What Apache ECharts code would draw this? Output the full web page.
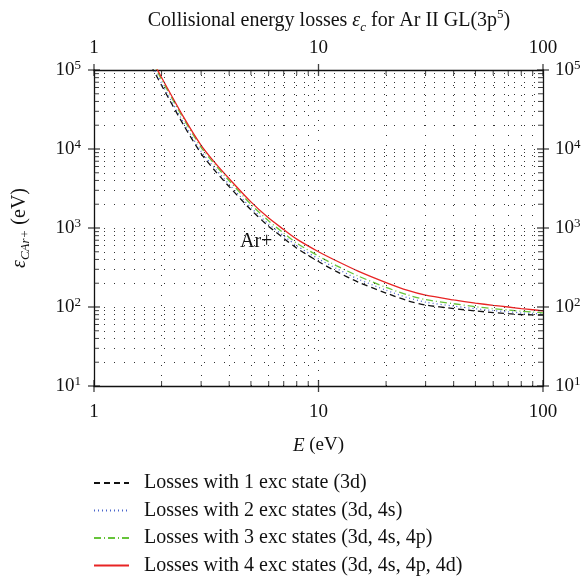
<!DOCTYPE html>
<html><head><meta charset="utf-8">
<script src="https://cdn.jsdelivr.net/npm/echarts@6/dist/echarts.min.js"></script>
<style>html,body{margin:0;padding:0;background:#fff}#c{width:584px;height:578px}</style>
</head><body><div id="c"></div>
<script>
const energies = [1.8,2,2.5,3,3.5,4,5,6,7,8,10,12,15,20,25,30,40,50,60,70,80,90,100];
const loss1 = [111900,63800,20400,8750,5105,3340,1700,1047,741,555,376,282,207,150,120,106,95.5,89.1,85.1,82.2,80.4,79.4,78.9];
const loss2 = [119400,68100,21800,9350,5445,3565,1811,1120,796,597,407,308,226,163,131,115,102.6,95.1,90.2,86.9,84.3,82.8,81.7];
const loss3 = [133000,75900,24300,10500,6070,3970,1995,1225,863,644,441,334,247,177,142,124,110,101,95.3,91.6,88.3,86.3,84.5];
const loss4 = [141000,80400,25700,11140,6430,4210,2140,1334,955,723,501,385,285,204,162,141,123,112,105,100,95.5,92.3,89.5];
const seriesNames = ['Losses with 1 exc state (3d)','Losses with 2 exc states (3d, 4s)','Losses with 3 exc states (3d, 4s, 4p)','Losses with 4 exc states (3d, 4s, 4p, 4d)'];
const xMajor = [1,10,100];
const yMajor = [10,100,1000,10000,100000];
const xMinor = [2,3,4,5,6,7,8,9,20,30,40,50,60,70,80,90];
const yMinor = [20,30,40,50,60,70,80,90,200,300,400,500,600,700,800,900,2000,3000,4000,5000,6000,7000,8000,9000,20000,30000,40000,50000,60000,70000,80000,90000];
const xMin = 1, xMax = 100, yMin = 10, yMax = 100000;
const curveLabel = 'Ar+';

const FONT = 'Liberation Serif';
const chart = echarts.init(document.getElementById('c'), null, {renderer:'canvas'});
const pair = (xs, ys) => xs.map((x,i)=>[x, ys[i]]);
const supRich = {
  b:{fontFamily:FONT,fontSize:19,lineHeight:22,color:'#111'},
  s:{fontFamily:FONT,fontSize:13,lineHeight:12,verticalAlign:'top',color:'#111'}
};
const yFmt = v => '{b|10}{s|' + Math.round(Math.log10(v)) + '}';
const xLabel = {fontFamily:FONT,fontSize:19,color:'#111'};
const axisLine = {show:true,lineStyle:{color:'#111',width:1.3}};
const dotted = {color:'#333',width:1,type:[1,9]};

function tickSeries(name, xs, yv, size, offset, onX) {
  return {
    type:'scatter', name, silent:true, clip:false, z:5,
    symbol:'rect', symbolSize:size, symbolOffset:offset,
    itemStyle:{color:'#111'},
    data: onX ? xs.map(x=>[x, yv]) : xs.map(y=>[yv, y])
  };
}

const lineDefs = [
  {data:loss1, color:'#111111', type:[6,4], width:1.3},
  {data:loss2, color:'#4a66cc', type:[1,3], width:1.3},
  {data:loss3, color:'#66c43a', type:[7,3,1,3], width:1.3},
  {data:loss4, color:'#e82424', type:'solid', width:1.3}
];

const option = {
  animation:false,
  backgroundColor:'#fff',
  title:{
    text:'Collisional energy losses {i|ε}{sub|c} for Ar II GL(3p{sup|5})',
    left:324, top:3, textAlign:'center',
    textStyle:{fontFamily:FONT,fontSize:20,fontWeight:'normal',color:'#111',lineHeight:26,
      rich:{
        i:{fontFamily:FONT,fontSize:20,fontStyle:'italic',color:'#111',lineHeight:26},
        sub:{fontFamily:FONT,fontSize:13,fontStyle:'italic',color:'#111',lineHeight:12,verticalAlign:'bottom'},
        sup:{fontFamily:FONT,fontSize:13,color:'#111',lineHeight:12,verticalAlign:'top'}
      }}
  },
  grid:{left:93,right:41,top:70,bottom:192,containLabel:false},
  legend:{
    orient:'vertical', left:93, top:473, padding:0, itemWidth:35, itemHeight:14, itemGap:7.5,
    data:seriesNames, itemStyle:{opacity:0},
    textStyle:{fontFamily:FONT,fontSize:20,color:'#111',lineHeight:20,padding:[0,0,0,10]}
  },
  xAxis:[
    {type:'log',logBase:10,min:xMin,max:xMax,position:'bottom',
     name:'{i|E} (eV)',nameLocation:'middle',nameGap:50,
     nameTextStyle:{fontFamily:FONT,fontSize:19,color:'#111',rich:{i:{fontFamily:FONT,fontSize:19,fontStyle:'italic',color:'#111'}}},
     axisLine, axisTick:{show:false}, axisLabel:{...xLabel,margin:17},
     splitLine:{show:true,lineStyle:dotted}},
    {type:'log',logBase:10,min:xMin,max:xMax,position:'top',
     axisLine, axisTick:{show:false}, axisLabel:{...xLabel,margin:12}, splitLine:{show:false}}
  ],
  yAxis:[
    {type:'log',logBase:10,min:yMin,max:yMax,position:'left',
     name:'{i|ε}{sub|CAr+} (eV)',nameLocation:'middle',nameGap:62,nameRotate:90,
     nameTextStyle:{fontFamily:FONT,fontSize:20,color:'#111',lineHeight:24,
       rich:{i:{fontFamily:FONT,fontSize:20,fontStyle:'italic',color:'#111',lineHeight:24},
             sub:{fontFamily:FONT,fontSize:13,fontStyle:'italic',color:'#111',lineHeight:12,verticalAlign:'bottom'}}},
     axisLine, axisTick:{show:false},
     axisLabel:{formatter:yFmt,rich:supRich,margin:13},
     splitLine:{show:true,lineStyle:dotted}},
    {type:'log',logBase:10,min:yMin,max:yMax,position:'right',
     axisLine, axisTick:{show:false},
     axisLabel:{formatter:yFmt,rich:supRich,margin:12}, splitLine:{show:false}}
  ],
  series:[
    {type:'scatter',name:'grid',silent:true,symbolSize:0,data:[[xMin,yMin]],z:1,
     markLine:{silent:true,symbol:'none',label:{show:false},lineStyle:dotted,animation:false,
       data:[...xMinor.map(v=>({xAxis:v})), ...yMinor.map(v=>({yAxis:v}))]}},
    tickSeries('tb', xMinor, yMin, [1,5], [0,-2.5], true),
    tickSeries('tt', xMinor, yMax, [1,5], [0,2.5], true),
    tickSeries('tl', yMinor, xMin, [5,1], [2.5,0], false),
    tickSeries('tr', yMinor, xMax, [5,1], [-2.5,0], false),
    tickSeries('Tb', xMajor, yMin, [1.3,12], [0,0], true),
    tickSeries('Tt', xMajor, yMax, [1.3,12], [0,0], true),
    tickSeries('Tl', yMajor, xMin, [12,1.3], [0,0], false),
    tickSeries('Tr', yMajor, xMax, [12,1.3], [0,0], false),
    ...lineDefs.map((d,i)=>({
      type:'line', name:seriesNames[i], data:pair(energies,d.data), symbol:'none', smooth:0.25,
      z:3, clip:true,
      lineStyle:{color:d.color,type:d.type,width:d.width}, itemStyle:{color:d.color}
    }))
  ],
  graphic:[{type:'text',left:240,top:232,style:{text:curveLabel,font:'20px "Liberation Serif"',fill:'#111'}}]
};
chart.setOption(option);
</script></body></html>
